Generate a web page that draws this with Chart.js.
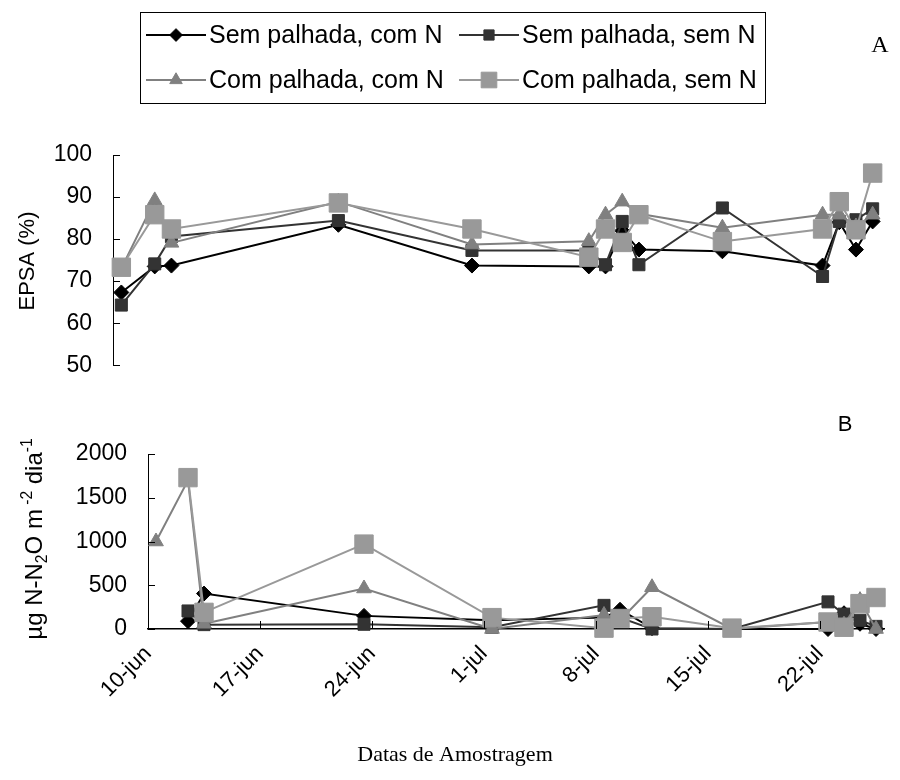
<!DOCTYPE html>
<html>
<head>
<meta charset="utf-8">
<script src="https://cdn.jsdelivr.net/npm/chart.js@4.4.0/dist/chart.umd.min.js"></script>
<style>
  html, body { margin: 0; padding: 0; background: #fff; }
  #wrap { position: relative; width: 900px; height: 780px; }
  #topChart { position: absolute; left: 0; top: 0; }
  #botChart { position: absolute; left: 0; top: 400px; }
</style>
</head>
<body>
<div id="wrap">
  <canvas id="topChart" width="900" height="400"></canvas>
  <canvas id="botChart" width="900" height="380"></canvas>
</div>
<script>
// series names (legend order)
const seriesNames = ['Sem palhada, com N', 'Sem palhada, sem N', 'Com palhada, com N', 'Com palhada, sem N'];

// painel A - EPSA (%)
const epsaDates = ['10-jun', '12-jun', '13-jun', '23-jun', '1-jul', '8-jul', '9-jul', '10-jul', '11-jul', '16-jul', '22-jul', '23-jul', '24-jul', '25-jul'];
const epsaSemPalhadaComN = [67.3, 73.5, 73.7, 83.4, 73.7, 73.5, 73.5, 82.0, 77.5, 77.1, 73.7, 84.0, 77.5, 84.2];
const epsaSemPalhadaSemN = [64.3, 74.1, 80.6, 84.4, 77.3, 77.3, 73.9, 84.2, 73.9, 87.4, 71.1, 84.2, 84.6, 87.2];
const epsaComPalhadaComN = [73.0, 89.2, 79.1, 88.9, 78.7, 79.5, 85.8, 88.9, 86.0, 82.7, 85.8, 85.8, 83.0, 85.8];
const epsaComPalhadaSemN = [73.3, 85.8, 82.4, 88.6, 82.4, 75.7, 82.4, 79.2, 85.8, 79.4, 82.4, 88.9, 82.2, 95.7];

// painel B - fluxo de N2O
const n2oDates = ['10-jun', '12-jun', '13-jun', '23-jun', '1-jul', '8-jul', '9-jul', '11-jul', '16-jul', '22-jul', '23-jul', '24-jul', '25-jul'];
const n2oSemPalhadaComN = [null, 90, 405, 150, 100, 130, 220, 10, 0, 0, 180, 60, 0];
const n2oSemPalhadaSemN = [null, 206, 50, 54, 20, 270, 130, 0, 0, 310, 170, 100, 30];
const n2oComPalhadaComN = [1000, 1700, 60, 463, 0, 160, 100, 477, 0, 80, 50, 330, 0];
const n2oComPalhadaSemN = [null, 1730, 190, 970, 130, 10, 120, 140, 10, 80, 20, 290, 360];

// eixos
const xTickLabels = ['10-jun', '17-jun', '24-jun', '1-jul', '8-jul', '15-jul', '22-jul'];
const epsaTicks = [50, 60, 70, 80, 90, 100];
const n2oTicks = [0, 500, 1000, 1500, 2000];

const months = { jun: 5, jul: 6 };
function dayOf(label) {
    const [d, m] = label.split('-');
    return (Date.UTC(2000, months[m], +d) - Date.UTC(2000, 5, 10)) / 86400000;
}

const styles = [
    { color: '#000000', pointStyle: 'rectRot', radius: 7.5 },
    { color: '#333333', pointStyle: 'rect', radius: 8.5 },
    { color: '#808080', pointStyle: 'triangle', radius: 8.5 },
    { color: '#999999', pointStyle: 'rect', radius: 13 }
];

function makeDatasets(dates, series) {
    return series.map((vals, i) => ({
        label: seriesNames[i],
        data: dates.map((d, j) => ({ x: dayOf(d), y: vals[j] })),
        borderColor: styles[i].color,
        backgroundColor: styles[i].color,
        pointBackgroundColor: styles[i].color,
        pointBorderColor: styles[i].color,
        pointBorderWidth: 1,
        pointStyle: styles[i].pointStyle,
        pointRadius: styles[i].radius,
        borderWidth: 2,
        tension: 0,
        clip: false,
        order: 3 - i
    }));
}

const sans = 'Liberation Sans, Arial, sans-serif';
const serif = 'Liberation Serif, Times New Roman, serif';

// tick marks point inside the plot, as in the original
const insideTicks = {
    id: 'insideTicks',
    afterDraw(chart) {
        const ctx = chart.ctx;
        ctx.save();
        ctx.strokeStyle = '#000';
        ctx.lineWidth = 1;
        const y = chart.scales.y;
        y.ticks.forEach(t => {
            const py = Math.round(y.getPixelForValue(t.value)) + 0.5;
            ctx.beginPath();
            ctx.moveTo(y.right, py);
            ctx.lineTo(y.right + 7, py);
            ctx.stroke();
        });
        const x = chart.scales.x;
        if (x.options.display) {
            x.ticks.forEach((t, i) => {
                if (i === 0) return;
                const px = Math.round(x.getPixelForValue(t.value)) + 0.5;
                ctx.beginPath();
                ctx.moveTo(px, x.top);
                ctx.lineTo(px, x.top - 8);
                ctx.stroke();
            });
        }
        ctx.restore();
    }
};

// vertical text with sub/superscripts
function drawRotated(ctx, parts, cx, cy, size) {
    ctx.save();
    ctx.translate(cx, cy);
    ctx.rotate(-Math.PI / 2);
    ctx.fillStyle = '#000';
    ctx.textBaseline = 'alphabetic';
    let total = 0;
    parts.forEach(p => {
        ctx.font = (p.s ? size * 0.65 : size) + 'px ' + sans;
        p.w = ctx.measureText(p.t).width;
        total += p.w;
    });
    let xx = -total / 2;
    parts.forEach(p => {
        ctx.font = (p.s ? size * 0.65 : size) + 'px ' + sans;
        const dy = p.s === 'sup' ? -size * 0.42 : (p.s === 'sub' ? size * 0.22 : 0);
        ctx.fillText(p.t, xx, dy);
        xx += p.w;
    });
    ctx.restore();
}

function drawLegendMarker(ctx, st, x, y) {
    ctx.fillStyle = st.color;
    ctx.strokeStyle = st.color;
    ctx.lineWidth = 1;
    Chart.helpers.drawPoint(ctx, { pointStyle: st.pointStyle, radius: st.radius * 0.85, rotation: 0, borderWidth: 1 }, x, y);
}

const topDecor = {
    id: 'topDecor',
    afterDraw(chart) {
        const ctx = chart.ctx;
        ctx.save();
        // legend box
        ctx.strokeStyle = '#000';
        ctx.lineWidth = 1;
        ctx.strokeRect(140.5, 12.5, 625, 91);
        const cols = [146, 459];
        const rows = [35, 80];
        seriesNames.forEach((name, i) => {
            const x0 = cols[i % 2], y0 = rows[Math.floor(i / 2)];
            const st = styles[i];
            ctx.strokeStyle = st.color;
            ctx.lineWidth = 2;
            ctx.beginPath();
            ctx.moveTo(x0, y0);
            ctx.lineTo(x0 + 60, y0);
            ctx.stroke();
            drawLegendMarker(ctx, st, x0 + 30, y0);
            ctx.fillStyle = '#000';
            ctx.font = '25px ' + sans;
            ctx.textBaseline = 'middle';
            ctx.textAlign = 'left';
            ctx.fillText(name, x0 + 63, y0 + 1);
        });
        // panel letter
        ctx.fillStyle = '#000';
        ctx.font = '24px ' + serif;
        ctx.textAlign = 'center';
        ctx.textBaseline = 'middle';
        ctx.fillText('A', 880, 46);
        ctx.restore();
        drawRotated(ctx, [{ t: 'EPSA (%)' }], 34, 261, 22);
    }
};

const botDecor = {
    id: 'botDecor',
    afterDraw(chart) {
        const ctx = chart.ctx;
        ctx.save();
        ctx.fillStyle = '#000';
        ctx.font = '22px ' + sans;
        ctx.textAlign = 'center';
        ctx.textBaseline = 'middle';
        ctx.fillText('B', 845, 25);
        ctx.font = '22px ' + serif;
        ctx.fillText('Datas de Amostragem', 455, 355);
        ctx.restore();
        drawRotated(ctx, [
            { t: 'µg N-N' }, { t: '2', s: 'sub' }, { t: 'O m' }, { t: ' -2', s: 'sup' },
            { t: ' dia' }, { t: '-1', s: 'sup' }
        ], 42, 139, 24);
    }
};

const xMin = -0.5, xMax = 45.5;

new Chart(document.getElementById('topChart'), {
    type: 'line',
    data: {
        datasets: makeDatasets(epsaDates, [epsaSemPalhadaComN, epsaSemPalhadaSemN, epsaComPalhadaComN, epsaComPalhadaSemN])
    },
    options: {
        responsive: false,
        animation: false,
        layout: { padding: { left: 0, right: 19, top: 155, bottom: 34 } },
        plugins: { legend: { display: false }, tooltip: { enabled: false } },
        scales: {
            x: { type: 'linear', min: xMin, max: xMax, display: false },
            y: {
                min: 50, max: 100,
                afterFit: s => { s.width = 113; },
                afterBuildTicks: s => { s.ticks = epsaTicks.map(v => ({ value: v })); },
                grid: { display: false, drawTicks: false },
                border: { display: true, color: '#000', width: 1 },
                ticks: { color: '#000', padding: 21, font: { family: sans, size: 23 }, callback: v => String(v) }
            }
        }
    },
    plugins: [insideTicks, topDecor]
});

new Chart(document.getElementById('botChart'), {
    type: 'line',
    data: {
        datasets: makeDatasets(n2oDates, [n2oSemPalhadaComN, n2oSemPalhadaSemN, n2oComPalhadaComN, n2oComPalhadaSemN])
    },
    options: {
        responsive: false,
        animation: false,
        layout: { padding: { left: 0, right: 16, top: 54, bottom: 0 } },
        plugins: { legend: { display: false }, tooltip: { enabled: false } },
        scales: {
            x: {
                type: 'linear', min: xMin, max: xMax,
                afterFit: s => { s.height = 151; },
                afterBuildTicks: s => { s.ticks = xTickLabels.map(l => ({ value: dayOf(l) - 0.5 })); },
                grid: { display: false, drawTicks: false },
                border: { display: true, color: '#000', width: 1.5 },
                ticks: {
                    color: '#000', padding: 12, autoSkip: false, maxRotation: 45, minRotation: 45,
                    font: { family: sans, size: 22 },
                    callback: (v, i) => xTickLabels[i]
                }
            },
            y: {
                min: 0, max: 2000,
                afterFit: s => { s.width = 148; },
                afterBuildTicks: s => { s.ticks = n2oTicks.map(v => ({ value: v })); },
                grid: { display: false, drawTicks: false },
                border: { display: true, color: '#000', width: 1 },
                ticks: { color: '#000', padding: 21, font: { family: sans, size: 23 }, callback: v => String(v) }
            }
        }
    },
    plugins: [insideTicks, botDecor]
});
</script>
</body>
</html>
